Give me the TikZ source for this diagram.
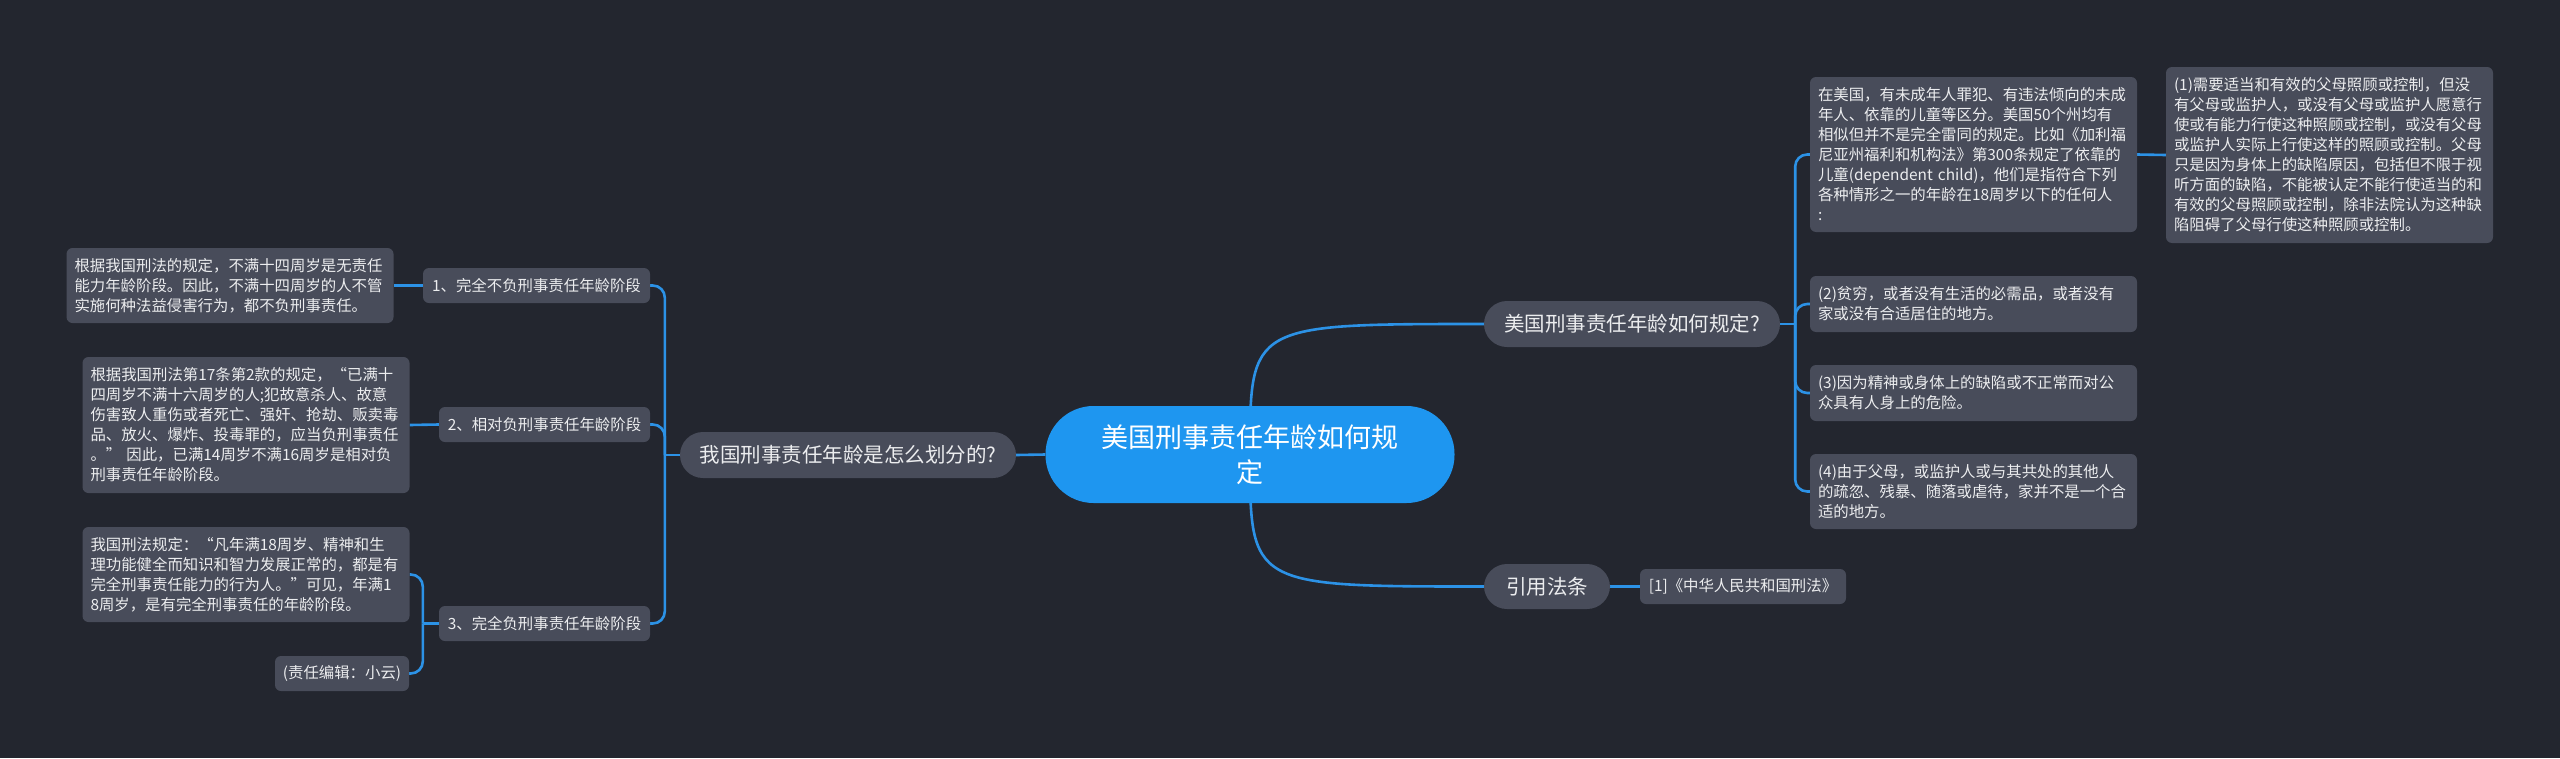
\documentclass[tikz,border=0pt]{standalone}
\usepackage{fontspec}
\setmainfont{Noto Sans CJK SC}
\definecolor{bgnavy}{HTML}{23262F}
\definecolor{boxgray}{HTML}{484C5A}
\definecolor{rootblue}{HTML}{1E96F0}
\definecolor{linkblue}{HTML}{2C92E6}
\definecolor{txtlight}{HTML}{ECEDEF}
\pgfdeclarelayer{canvas}
\pgfdeclarelayer{wires}
\pgfsetlayers{canvas,wires,main}
\begin{document}
\begin{tikzpicture}[x=1pt,y=-1pt,
  link/.style={draw=linkblue, line width=2.6pt, rounded corners=12pt},
  detail/.style={fill=boxgray, text=txtlight, rounded corners=6pt, align=left, inner xsep=8pt, inner ysep=0pt, text width=311pt, font=\fontsize{15.4}{20}\selectfont},
  stage/.style={fill=boxgray, text=txtlight, rounded corners=6pt, inner sep=0pt, minimum height=35pt, font=\fontsize{15.4}{20}\selectfont},
  topic/.style={fill=boxgray, text=txtlight, rounded corners=23pt, inner sep=0pt, minimum height=46pt, font=\fontsize{20.5}{24}\selectfont}]
\useasboundingbox (0,0) rectangle (2560,758);
\begin{pgfonlayer}{canvas}
\fill[bgnavy] (0,0) rectangle (2560,758);
\end{pgfonlayer}
\node[fill=rootblue, text=white, rounded corners=48pt, inner sep=0pt, minimum width=409pt, minimum height=97pt, align=center, font=\fontsize{27}{35}\selectfont] (root) at (1250,454.5) {美国刑事责任年龄如何规\\定};
\node[topic, minimum width=336pt] (lb) at (848,455) {我国刑事责任年龄是怎么划分的?};
\node[stage, minimum width=227pt] (i1) at (536.5,285.5) {1、完全不负刑事责任年龄阶段};
\node[stage, minimum width=211pt] (i2) at (544.5,424.5) {2、相对负刑事责任年龄阶段};
\node[stage, minimum width=211pt] (i3) at (544.5,623.5) {3、完全负刑事责任年龄阶段};
\node[detail, minimum height=75pt] (d1) at (230,285.5) {根据我国刑法的规定，不满十四周岁是无责任\\能力年龄阶段。因此，不满十四周岁的人不管\\实施何种法益侵害行为，都不负刑事责任。};
\node[detail, minimum height=136pt] (d2) at (246,425) {根据我国刑法第17条第2款的规定，“已满十\\四周岁不满十六周岁的人;犯故意杀人、故意\\伤害致人重伤或者死亡、强奸、抢劫、贩卖毒\\品、放火、爆炸、投毒罪的，应当负刑事责任\\。” 因此，已满14周岁不满16周岁是相对负\\刑事责任年龄阶段。};
\node[detail, minimum height=95pt] (d3) at (246,574.5) {我国刑法规定：“凡年满18周岁、精神和生\\理功能健全而知识和智力发展正常的，都是有\\完全刑事责任能力的行为人。”可见，年满1\\8周岁，是有完全刑事责任的年龄阶段。};
\node[stage, minimum width=134pt] (ed) at (342,673.5) {(责任编辑：小云)};
\node[topic, minimum width=296pt] (rb1) at (1632,324) {美国刑事责任年龄如何规定?};
\node[topic, minimum width=126pt, minimum height=45pt] (rb2) at (1547,586.5) {引用法条};
\node[stage, minimum width=206pt] (ref) at (1743,586.5) {[1]《中华人民共和国刑法》};
\node[detail, minimum height=155pt] (rA) at (1973.5,154.5) {在美国，有未成年人罪犯、有违法倾向的未成\\年人、依靠的儿童等区分。美国50个州均有\\相似但并不是完全雷同的规定。比如《加利福\\尼亚州福利和机构法》第300条规定了依靠的\\儿童(dependent child)，他们是指符合下列\\各种情形之一的年龄在18周岁以下的任何人\\:};
\node[detail, minimum height=176pt] (rB) at (2329.5,155) {(1)需要适当和有效的父母照顾或控制，但没\\有父母或监护人，或没有父母或监护人愿意行\\使或有能力行使这种照顾或控制，或没有父母\\或监护人实际上行使这样的照顾或控制。父母\\只是因为身体上的缺陷原因，包括但不限于视\\听方面的缺陷，不能被认定不能行使适当的和\\有效的父母照顾或控制，除非法院认为这种缺\\陷阻碍了父母行使这种照顾或控制。};
\node[detail, minimum height=56pt] (r2) at (1973.5,304) {(2)贫穷，或者没有生活的必需品，或者没有\\家或没有合适居住的地方。};
\node[detail, minimum height=56pt] (r3) at (1973.5,393) {(3)因为精神或身体上的缺陷或不正常而对公\\众具有人身上的危险。};
\node[detail, minimum height=75pt] (r4) at (1973.5,491.5) {(4)由于父母，或监护人或与其共处的其他人\\的疏忽、残暴、随落或虐待，家并不是一个合\\适的地方。};
\coordinate (lbjoint) at ([xshift=-15pt]lb.west);
\coordinate (rbjoint) at ([xshift=15pt]rb1.east);
\coordinate (stjoint) at ([xshift=-16pt]i3.west);
\begin{pgfonlayer}{wires}
\draw[link] (root.center) .. controls (root.center |- rb1.west) .. (rb1.west);
\draw[link] (root.center) .. controls (root.center |- rb2.west) .. (rb2.west);
\draw[link] (root.west) -- (lb.east);
\draw[link] (lb.west) -- (lbjoint);
\draw[link] (lbjoint) |- (i1.east);
\draw[link] (lbjoint) |- (i2.east);
\draw[link] (lbjoint) |- (i3.east);
\draw[link] (i1.west) -- (d1.east);
\draw[link] (i2.west) -- (d2.east);
\draw[link] (i3.west) -- (stjoint);
\draw[link] (stjoint) |- (d3.east);
\draw[link] (stjoint) |- (ed.east);
\draw[link] (rb1.east) -- (rbjoint);
\draw[link] (rbjoint) |- (rA.west);
\draw[link] (rbjoint) |- (r2.west);
\draw[link] (rbjoint) |- (r3.west);
\draw[link] (rbjoint) |- (r4.west);
\draw[link] (rA.east) -- (rB.west);
\draw[link] (rb2.east) -- (ref.west);
\end{pgfonlayer}
\end{tikzpicture}
\end{document}
